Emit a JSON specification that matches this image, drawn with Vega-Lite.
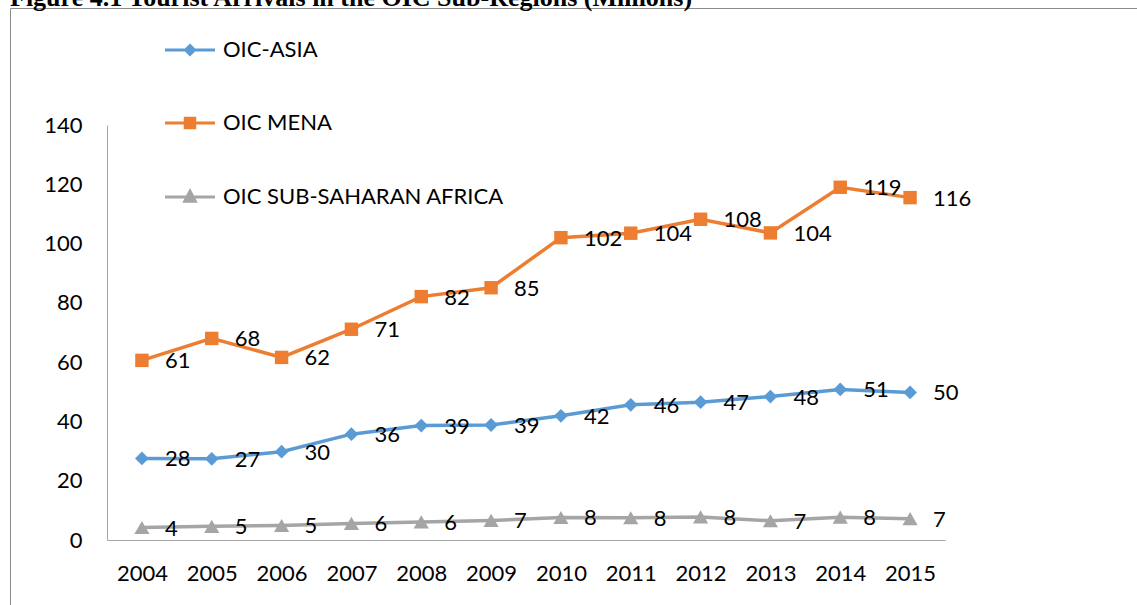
{
  "$schema": "https://vega.github.io/schema/vega-lite/v6.json",
  "width": 1127,
  "height": 597,
  "autosize": {"type": "none"},
  "padding": {"left": 10, "top": 8, "right": 0, "bottom": 0},
  "background": "white",
  "title": {
    "text": "Figure 4.1 Tourist Arrivals in the OIC Sub-Regions (Millions)",
    "anchor": "start",
    "frame": "group",
    "font": "Liberation Serif",
    "fontSize": 26,
    "fontWeight": "bold",
    "color": "black",
    "offset": 0,
    "dy": 3
  },
  "config": {
    "view": {"stroke": "#8c8c8c", "strokeWidth": 1},
    "font": "Lato"
  },
  "data": {
    "values": [
      {"year": "2004", "series": "OIC-ASIA", "value": 27.5},
      {"year": "2005", "series": "OIC-ASIA", "value": 27.4},
      {"year": "2006", "series": "OIC-ASIA", "value": 29.8},
      {"year": "2007", "series": "OIC-ASIA", "value": 35.7},
      {"year": "2008", "series": "OIC-ASIA", "value": 38.6},
      {"year": "2009", "series": "OIC-ASIA", "value": 38.8},
      {"year": "2010", "series": "OIC-ASIA", "value": 41.9},
      {"year": "2011", "series": "OIC-ASIA", "value": 45.6},
      {"year": "2012", "series": "OIC-ASIA", "value": 46.5},
      {"year": "2013", "series": "OIC-ASIA", "value": 48.4},
      {"year": "2014", "series": "OIC-ASIA", "value": 50.8},
      {"year": "2015", "series": "OIC-ASIA", "value": 49.8},
      {"year": "2004", "series": "OIC MENA", "value": 60.6},
      {"year": "2005", "series": "OIC MENA", "value": 68.0},
      {"year": "2006", "series": "OIC MENA", "value": 61.6},
      {"year": "2007", "series": "OIC MENA", "value": 71.1},
      {"year": "2008", "series": "OIC MENA", "value": 82.1},
      {"year": "2009", "series": "OIC MENA", "value": 85.1},
      {"year": "2010", "series": "OIC MENA", "value": 102.0},
      {"year": "2011", "series": "OIC MENA", "value": 103.5},
      {"year": "2012", "series": "OIC MENA", "value": 108.2},
      {"year": "2013", "series": "OIC MENA", "value": 103.6},
      {"year": "2014", "series": "OIC MENA", "value": 119.0},
      {"year": "2015", "series": "OIC MENA", "value": 115.5},
      {"year": "2004", "series": "OIC SUB-SAHARAN AFRICA", "value": 4.2},
      {"year": "2005", "series": "OIC SUB-SAHARAN AFRICA", "value": 4.6},
      {"year": "2006", "series": "OIC SUB-SAHARAN AFRICA", "value": 4.9},
      {"year": "2007", "series": "OIC SUB-SAHARAN AFRICA", "value": 5.6},
      {"year": "2008", "series": "OIC SUB-SAHARAN AFRICA", "value": 6.1},
      {"year": "2009", "series": "OIC SUB-SAHARAN AFRICA", "value": 6.6},
      {"year": "2010", "series": "OIC SUB-SAHARAN AFRICA", "value": 7.6},
      {"year": "2011", "series": "OIC SUB-SAHARAN AFRICA", "value": 7.5},
      {"year": "2012", "series": "OIC SUB-SAHARAN AFRICA", "value": 7.8},
      {"year": "2013", "series": "OIC SUB-SAHARAN AFRICA", "value": 6.5},
      {"year": "2014", "series": "OIC SUB-SAHARAN AFRICA", "value": 7.7},
      {"year": "2015", "series": "OIC SUB-SAHARAN AFRICA", "value": 7.2}
    ]
  },
  "encoding": {
    "x": {
      "field": "year",
      "type": "ordinal",
      "scale": {"type": "point", "range": [97, 935], "padding": 0.5},
      "axis": {
        "title": null,
        "orient": "bottom",
        "offset": -65,
        "grid": false,
        "ticks": false,
        "domainColor": "#a6a6a6",
        "domainWidth": 1,
        "labelAngle": 0,
        "labelFont": "Lato",
        "labelFontSize": 22,
        "labelColor": "black",
        "labelPadding": 23
      }
    },
    "y": {
      "field": "value",
      "type": "quantitative",
      "scale": {"domain": [0, 140], "range": [532, 117], "nice": false, "zero": true},
      "axis": {
        "title": null,
        "orient": "left",
        "offset": -97,
        "values": [0, 20, 40, 60, 80, 100, 120, 140],
        "grid": false,
        "ticks": false,
        "domainColor": "#a6a6a6",
        "domainWidth": 1,
        "labelFont": "Lato",
        "labelFontSize": 22,
        "labelColor": "black",
        "labelPadding": 25
      }
    }
  },
  "layer": [
    {
      "mark": {"type": "line", "strokeWidth": 3.5},
      "encoding": {
        "color": {
          "field": "series",
          "type": "nominal",
          "scale": {
            "domain": ["OIC-ASIA", "OIC MENA", "OIC SUB-SAHARAN AFRICA"],
            "range": ["#5B9BD5", "#ED7D31", "#A5A5A5"]
          },
          "legend": {
            "orient": "none",
            "legendX": 169,
            "legendY": 31,
            "title": null,
            "direction": "vertical",
            "labelFont": "Lato",
            "labelFontSize": 22,
            "labelColor": "black",
            "labelLimit": 0,
            "labelOffset": 22,
            "symbolSize": 100,
            "symbolStrokeWidth": 3,
            "rowPadding": 51,
            "symbolType": "M-5,0H5",
            "encode": {
              "symbols": {
                "update": {
                  "shape": {"signal": "datum.value === 'OIC-ASIA' ? 'M-5,0H5M0,-0.9L0.9,0L0,0.9L-0.9,0Z' : datum.value === 'OIC MENA' ? 'M-5,0H5M-0.95,-0.95H0.95V0.95H-0.95Z' : 'M-5,0H5M0,-1.15L1.05,0.85H-1.05Z'"},
                  "fill": {"signal": "datum.value === 'OIC-ASIA' ? '#5B9BD5' : datum.value === 'OIC MENA' ? '#ED7D31' : '#A5A5A5'"},
                  "stroke": {"signal": "datum.value === 'OIC-ASIA' ? '#5B9BD5' : datum.value === 'OIC MENA' ? '#ED7D31' : '#A5A5A5'"},
                  "opacity": {"value": 1},
                  "fillOpacity": {"value": 1},
                  "strokeWidth": {"value": 3}
                }
              }
            }
          }
        }
      }
    },
    {
      "transform": [{"filter": "datum.series === 'OIC-ASIA'"}],
      "mark": {"type": "point", "filled": true, "opacity": 1, "shape": "diamond", "size": 190, "color": "#5B9BD5"}
    },
    {
      "transform": [{"filter": "datum.series === 'OIC MENA'"}],
      "mark": {"type": "point", "filled": true, "opacity": 1, "shape": "square", "size": 180, "color": "#ED7D31"}
    },
    {
      "transform": [{"filter": "datum.series === 'OIC SUB-SAHARAN AFRICA'"}],
      "mark": {"type": "point", "filled": true, "opacity": 1, "shape": "triangle-up", "size": 230, "color": "#A5A5A5"}
    },
    {
      "mark": {
        "type": "text",
        "align": "left",
        "baseline": "middle",
        "dx": 23,
        "dy": 1,
        "font": "Lato",
        "fontSize": 22,
        "color": "black"
      },
      "encoding": {
        "text": {"field": "value", "type": "quantitative", "format": ".0f"},
        "detail": {"field": "series", "type": "nominal"}
      }
    }
  ]
}
